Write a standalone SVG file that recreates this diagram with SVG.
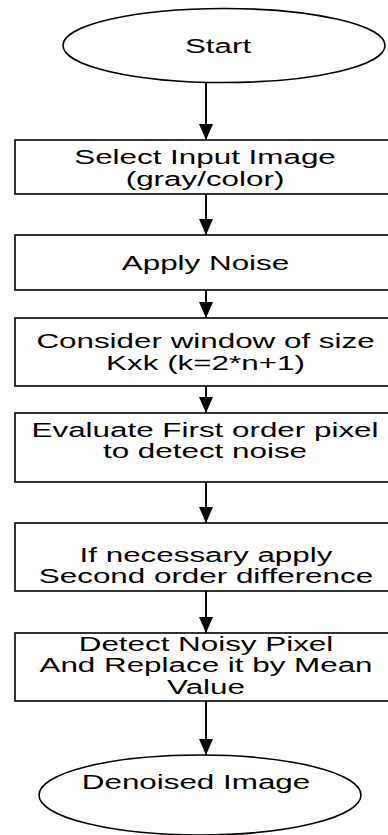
<svg xmlns="http://www.w3.org/2000/svg" width="388" height="835" viewBox="0 0 388 835">
<style>
.shape{fill:#fff;stroke:#000;stroke-width:1.6}
.lbl{font-family:"Liberation Sans",Arial,sans-serif;font-size:21px;fill:#000;text-anchor:middle}
.conn{stroke:#000;stroke-width:2;fill:none}
</style>
<defs>
<marker id="arr" markerUnits="userSpaceOnUse" markerWidth="16" markerHeight="16" viewBox="0 0 16 16" refX="16" refY="8" orient="auto">
<path d="M0,1 L16,8 L0,15 Z" fill="#000"/>
</marker>
</defs>
<rect width="388" height="835" fill="#fff"/>
<g id="connectors">
<line class="conn" x1="206" y1="83" x2="206" y2="140" marker-end="url(#arr)"/>
<line class="conn" x1="206" y1="194" x2="206" y2="235" marker-end="url(#arr)"/>
<line class="conn" x1="206" y1="290" x2="206" y2="318" marker-end="url(#arr)"/>
<line class="conn" x1="206" y1="386" x2="206" y2="413" marker-end="url(#arr)"/>
<line class="conn" x1="206" y1="482" x2="206" y2="523" marker-end="url(#arr)"/>
<line class="conn" x1="206" y1="591" x2="206" y2="633" marker-end="url(#arr)"/>
<line class="conn" x1="206" y1="701" x2="206" y2="755" marker-end="url(#arr)"/>
</g>
<g id="start">
<ellipse class="shape" cx="224" cy="45.5" rx="161" ry="37"/>
<g transform="translate(218 0) scale(1.495 1)"><text class="lbl" x="0" y="53.3">Start</text></g>
</g>
<g id="select">
<rect class="shape" x="15" y="140" width="382" height="54"/>
<g transform="translate(205 0) scale(1.495 1)"><text class="lbl" x="0" y="164">Select Input Image</text><text class="lbl" x="0" y="186">(gray/color)</text></g>
</g>
<g id="noise">
<rect class="shape" x="15" y="235" width="382" height="55"/>
<g transform="translate(205.5 0) scale(1.495 1)"><text class="lbl" x="0" y="270">Apply Noise</text></g>
</g>
<g id="window">
<rect class="shape" x="15" y="318" width="382" height="68"/>
<g transform="translate(205.5 0) scale(1.495 1)"><text class="lbl" x="0" y="348.3">Consider window of size</text><text class="lbl" x="0" y="370">Kxk (k=2*n+1)</text></g>
</g>
<g id="evaluate">
<rect class="shape" x="15" y="413" width="382" height="69"/>
<g transform="translate(205 0) scale(1.495 1)"><text class="lbl" x="0" y="436.7">Evaluate First order pixel</text><text class="lbl" x="0" y="458.3">to detect noise</text></g>
</g>
<g id="second">
<rect class="shape" x="15" y="523" width="382" height="68"/>
<g transform="translate(206 0) scale(1.495 1)"><text class="lbl" x="0" y="561.7">If necessary apply</text><text class="lbl" x="0" y="583.3">Second order difference</text></g>
</g>
<g id="detect">
<rect class="shape" x="15" y="633" width="382" height="68"/>
<g transform="translate(206 0) scale(1.495 1)"><text class="lbl" x="0" y="651">Detect Noisy Pixel</text><text class="lbl" x="0" y="672.5">And Replace it by Mean</text><text class="lbl" x="0" y="694">Value</text></g>
</g>
<g id="end">
<ellipse class="shape" cx="200" cy="795" rx="161" ry="40"/>
<g transform="translate(196 0) scale(1.495 1)"><text class="lbl" x="0" y="788.7">Denoised Image</text></g>
</g>
</svg>
